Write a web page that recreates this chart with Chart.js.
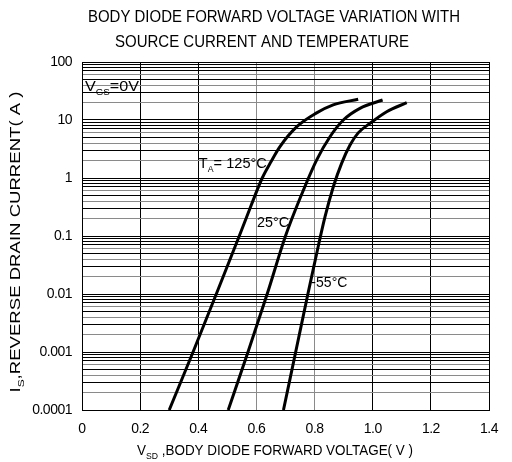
<!DOCTYPE html>
<html>
<head>
<meta charset="utf-8">
<script src="https://cdn.jsdelivr.net/npm/chart.js@4.4.0/dist/chart.umd.min.js"></script>
<style>
  html, body { margin: 0; padding: 0; background: #fff; }
</style>
</head>
<body>
<canvas id="chart" width="512" height="462"></canvas>
<script>
// values
const vsd125 = [0.300, 0.382, 0.462, 0.541, 0.580, 0.620, 0.650, 0.681, 0.739, 0.804, 0.864, 0.950];
const is125  = [0.0001, 0.001, 0.01, 0.1, 0.32, 1, 1.9, 3.47, 7.66, 13.0, 18.2, 22.8];

const vsd25 = [0.503, 0.571, 0.637, 0.700, 0.750, 0.807, 0.853, 0.899, 0.956, 1.034];
const is25  = [0.0001, 0.001, 0.01, 0.1, 0.447, 2.04, 5.15, 10, 15.9, 22.1];

const vsdM55 = [0.693, 0.735, 0.777, 0.800, 0.836, 0.8645, 0.893, 0.922, 0.950, 0.991, 1.048, 1.117];
const isM55  = [0.0001, 0.001, 0.01, 0.034, 0.215, 0.708, 1.79, 3.7, 6.0, 8.77, 13.9, 19.9];

const xTicks = [0, 0.2, 0.4, 0.6, 0.8, 1.0, 1.2, 1.4];
const xTickLabels = ['0', '0.2', '0.4', '0.6', '0.8', '1.0', '1.2', '1.4'];
const yDecades = [0.0001, 0.001, 0.01, 0.1, 1, 10, 100];
const yTickLabels = ['0.0001', '0.001', '0.01', '0.1', '1', '10', '100'];

const FONT = '"Liberation Sans", Arial, Helvetica, sans-serif';
Chart.defaults.font.family = FONT;
Chart.defaults.color = '#000';

function points(xs, ys) {
    return xs.map(function(x, i) { return { x: x, y: ys[i] }; });
}

// grid lines at 1..9 of each decade
const yGrid = [];
yDecades.forEach(function(d, i) {
    if (i === yDecades.length - 1) { yGrid.push(d); return; }
    for (let m = 1; m < 10; m++) yGrid.push(+(m * d).toPrecision(3));
});

function decadeIndex(v) {
    for (let i = 0; i < yDecades.length; i++) {
        if (Math.abs(Math.log10(v) - Math.log10(yDecades[i])) < 1e-6) return i;
    }
    return -1;
}

// text with subscripts, squeezed or stretched to a given width
function drawRich(ctx, parts, x, y, size, opts) {
    ctx.save();
    ctx.letterSpacing = '0px';
    ctx.fillStyle = '#000';
    ctx.textBaseline = 'alphabetic';
    const fontOf = function(sub) { return (sub ? Math.round(size * 0.62) : size) + 'px ' + FONT; };
    let w = 0;
    parts.forEach(function(p) { ctx.font = fontOf(p[1]); w += ctx.measureText(p[0]).width; });
    const sx = opts.width ? opts.width / w : 1;
    ctx.translate(x, y);
    if (opts.rotate) ctx.rotate(opts.rotate);
    ctx.scale(sx, 1);
    let cx = opts.center ? -w / 2 : 0;
    parts.forEach(function(p) {
        ctx.font = fontOf(p[1]);
        ctx.fillText(p[0], cx, p[1] ? size * 0.28 : 0);
        cx += ctx.measureText(p[0]).width;
    });
    ctx.restore();
}

const annotations = [
    { parts: [['V'], ['GS', 1], ['=0V']], v: 0.01, i: 31.6, width: 54 },
    { parts: [['T'], ['A', 1], ['= 125°C']], v: 0.402, i: 1.49, width: 68 },
    { parts: [['25°C']], v: 0.602, i: 0.143, width: 32 },
    { parts: [['-55°C']], v: 0.789, i: 0.0132, width: 36 }
];

const textPlugin = {
    id: 'texts',
    beforeDraw: function(chart) {
        chart.ctx.letterSpacing = '-0.5px';
    },
    afterDraw: function(chart) {
        const ctx = chart.ctx;
        const sx = chart.scales.x, sy = chart.scales.y;
        drawRich(ctx, [['BODY DIODE FORWARD VOLTAGE VARIATION WITH']], 274, 22, 17, { center: true, width: 372 });
        drawRich(ctx, [['SOURCE CURRENT AND TEMPERATURE']], 262, 46.5, 17, { center: true, width: 294 });
        drawRich(ctx, [['V'], ['SD', 1], [' ,BODY DIODE FORWARD VOLTAGE( V )']], 275, 455, 14, { center: true, width: 276 });
        drawRich(ctx, [['I'], ['S', 1], [',REVERSE DRAIN CURRENT( A )']], 20, 242, 14, { center: true, width: 301, rotate: -Math.PI / 2 });
        annotations.forEach(function(a) {
            drawRich(ctx, a.parts, sx.getPixelForValue(a.v), sy.getPixelForValue(a.i), 15, { width: a.width });
        });
    }
};

const lineStyle = {
    borderColor: '#000',
    borderWidth: 3,
    pointRadius: 0,
    fill: false,
    cubicInterpolationMode: 'monotone'
};

new Chart(document.getElementById('chart'), {
    type: 'line',
    data: {
        datasets: [
            Object.assign({ label: '125°C', data: points(vsd125, is125) }, lineStyle),
            Object.assign({ label: '25°C', data: points(vsd25, is25) }, lineStyle),
            Object.assign({ label: '-55°C', data: points(vsdM55, isM55) }, lineStyle)
        ]
    },
    options: {
        responsive: false,
        animation: false,
        layout: { padding: { top: 62, right: 23, left: 0, bottom: 0 } },
        plugins: {
            legend: { display: false },
            tooltip: { enabled: false },
            title: { display: false }
        },
        scales: {
            x: {
                type: 'linear',
                min: 0,
                max: 1.4,
                afterFit: function(s) { s.height = 52; },
                afterBuildTicks: function(s) { s.ticks = xTicks.map(function(v) { return { value: v }; }); },
                ticks: {
                    autoSkip: false,
                    maxRotation: 0,
                    padding: 11,
                    font: { size: 14 },
                    callback: function(v, i) { return xTickLabels[i]; }
                },
                grid: {
                    drawTicks: false,
                    lineWidth: 1,
                    color: function(c) {
                        const v = c.tick ? c.tick.value : 0;
                        return (Math.abs(v - 0.6) < 1e-6 || Math.abs(v - 0.8) < 1e-6) ? '#8a8a8a' : '#000';
                    }
                },
                border: { color: '#000' }
            },
            y: {
                type: 'logarithmic',
                min: 0.0001,
                max: 100,
                afterFit: function(s) { s.width = 82; },
                afterBuildTicks: function(s) { s.ticks = yGrid.map(function(v) { return { value: v }; }); },
                ticks: {
                    autoSkip: false,
                    padding: 10,
                    font: { size: 14 },
                    callback: function(v) {
                        const k = decadeIndex(v);
                        return k >= 0 ? yTickLabels[k] : '';
                    }
                },
                grid: {
                    drawTicks: false,
                    lineWidth: 1,
                    color: function(c) {
                        const v = c.tick ? c.tick.value : 1;
                        const m = Math.round(v / Math.pow(10, Math.floor(Math.log10(v) + 1e-9)));
                        return (m === 2 || m === 4 || m === 6) ? '#8a8a8a' : '#000';
                    }
                },
                border: { color: '#000' }
            }
        }
    },
    plugins: [textPlugin]
});
</script>
</body>
</html>
